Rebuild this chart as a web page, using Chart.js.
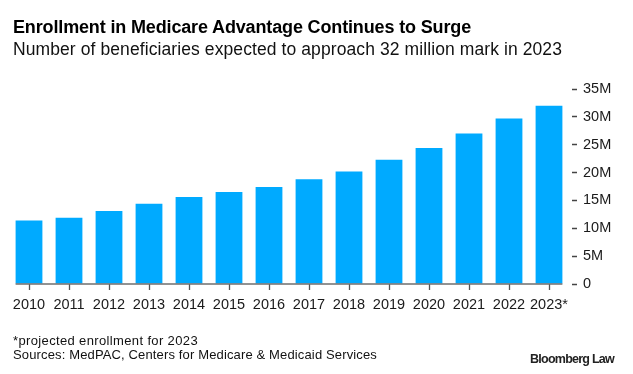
<!DOCTYPE html>
<html>
<head>
<meta charset="utf-8">
<script src="https://cdn.jsdelivr.net/npm/chart.js@4"></script>
<style>
  html, body { margin: 0; padding: 0; background: #fff; }
  body { width: 633px; height: 374px; position: relative; overflow: hidden; font-family: "Liberation Sans", Arial, sans-serif; }
  #c { position: absolute; left: 0; top: 0; }
  .t { position: absolute; white-space: nowrap; line-height: 1; }
  #title { left: 13px; top: 18px; font-size: 18px; font-weight: bold; color: #000; }
  #subtitle { left: 13px; top: 41px; font-size: 17.5px; color: #111; }
  #note { left: 13px; top: 334px; font-size: 13px; color: #111; }
  #src { left: 13px; top: 348px; font-size: 13px; color: #111; }
  #brand { left: 530px; top: 353px; font-size: 12.5px; font-weight: bold; color: #222; }
</style>
</head>
<body>
<canvas id="c" width="633" height="374"></canvas>
<div class="t" id="title" data-w="458">Enrollment in Medicare Advantage Continues to Surge</div>
<div class="t" id="subtitle" data-w="549">Number of beneficiaries expected to approach 32 million mark in 2023</div>
<div class="t" id="note" data-w="185">*projected enrollment for 2023</div>
<div class="t" id="src" data-w="364">Sources: MedPAC, Centers for Medicare &amp; Medicaid Services</div>
<div class="t" id="brand" data-w="84">Bloomberg Law</div>
<script>
// ---- data ----
const years = ["2010","2011","2012","2013","2014","2015","2016","2017","2018","2019","2020","2021","2022","2023*"];
const enrollmentMillions = [11.4, 11.9, 13.1, 14.4, 15.6, 16.5, 17.4, 18.8, 20.2, 22.3, 24.4, 27.0, 29.7, 32.0];
const yTickValues = [0, 5, 10, 15, 20, 25, 30, 35];
const yTickLabels = ["0", "5M", "10M", "15M", "20M", "25M", "30M", "35M"];

// fit text widths with letter-spacing
document.querySelectorAll('.t[data-w]').forEach(el => {
  const target = parseFloat(el.dataset.w);
  el.style.display = 'inline-block';
  const w = el.getBoundingClientRect().width;
  const n = el.textContent.length;
  el.style.letterSpacing = ((target - w) / n) + 'px';
});

const baselinePlugin = {
  id: 'baseline',
  afterDatasetsDraw(chart) {
    const meta = chart.getDatasetMeta(0);
    const first = meta.data[0], last = meta.data[meta.data.length - 1];
    const y = chart.scales.y.getPixelForValue(0);
    const ctx = chart.ctx;
    ctx.save();
    ctx.strokeStyle = '#6e6e6e';
    ctx.lineWidth = 1.5;
    ctx.beginPath();
    ctx.moveTo(first.x - first.width / 2, y);
    ctx.lineTo(last.x + last.width / 2, y);
    ctx.stroke();
    ctx.restore();
  }
};

new Chart(document.getElementById('c'), {
  type: 'bar',
  data: {
    labels: years,
    datasets: [{
      data: enrollmentMillions,
      backgroundColor: '#00AAFF',
      borderWidth: 0,
      categoryPercentage: 1,
      barPercentage: 0.67
    }]
  },
  options: {
    responsive: false,
    animation: false,
    devicePixelRatio: 1,
    layout: { padding: { left: 9, top: 89, right: 0, bottom: 0 } },
    plugins: { legend: { display: false }, tooltip: { enabled: false } },
    scales: {
      x: {
        grid: { display: true, drawOnChartArea: false, offset: false, tickLength: 6, tickColor: '#555', tickWidth: 1.3 },
        border: { display: false },
        ticks: { color: '#1a1a1a', font: { family: '"Liberation Sans", Arial, sans-serif', size: 14.5 }, padding: 6, maxRotation: 0, autoSkip: false },
        afterFit(scale) { scale.height = 90; }
      },
      y: {
        position: 'right',
        min: 0, max: 35,
        afterBuildTicks(scale) { scale.ticks = yTickValues.map(v => ({ value: v })); },
        grid: { display: true, drawOnChartArea: false, tickLength: 9, tickColor: '#444', tickWidth: 1.4, tickBorderDash: [0, 3, 5, 20] },
        border: { display: false },
        ticks: {
          color: '#1a1a1a',
          font: { family: '"Liberation Sans", Arial, sans-serif', size: 14.5 },
          padding: 5,
          callback: (v) => yTickLabels[yTickValues.indexOf(v)]
        },
        afterFit(scale) { scale.width = 64; }
      }
    }
  },
  plugins: [baselinePlugin]
});
</script>
</body>
</html>
